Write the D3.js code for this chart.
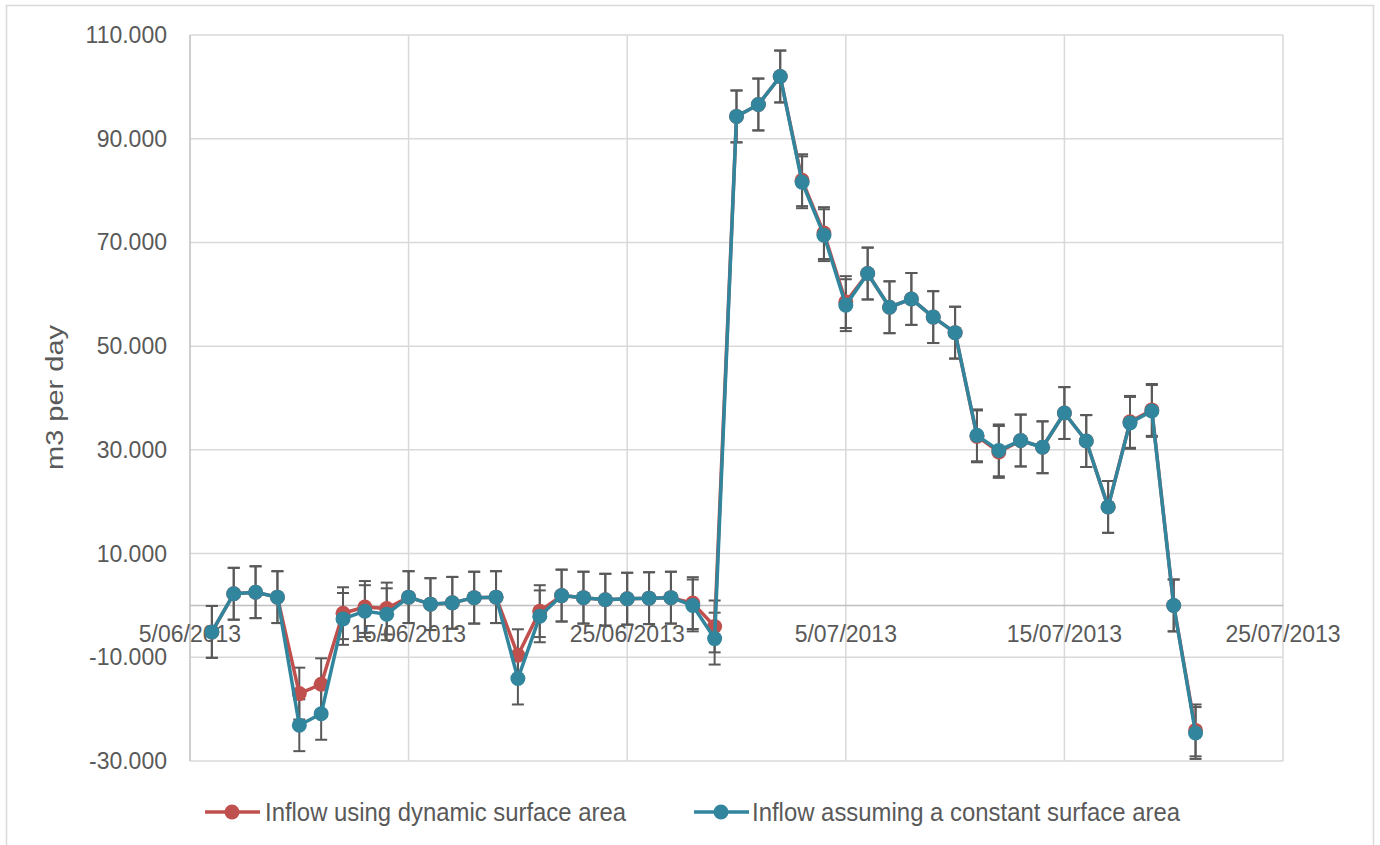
<!DOCTYPE html>
<html>
<head>
<meta charset="utf-8">
<script src="https://cdn.jsdelivr.net/npm/d3@7/dist/d3.min.js"></script>
<style>
  html, body { margin: 0; padding: 0; background: #fff; }
  svg { display: block; font-family: "Liberation Sans", Arial, sans-serif; }
</style>
</head>
<body>
<svg id="chart" width="1380" height="845"></svg>
<script>
// Daily inflow, 6 June – 21 July 2013 (m3 per day)
const dates = [
  "2013-06-06","2013-06-07","2013-06-08","2013-06-09","2013-06-10","2013-06-11","2013-06-12","2013-06-13",
  "2013-06-14","2013-06-15","2013-06-16","2013-06-17","2013-06-18","2013-06-19","2013-06-20","2013-06-21",
  "2013-06-22","2013-06-23","2013-06-24","2013-06-25","2013-06-26","2013-06-27","2013-06-28","2013-06-29",
  "2013-06-30","2013-07-01","2013-07-02","2013-07-03","2013-07-04","2013-07-05","2013-07-06","2013-07-07",
  "2013-07-08","2013-07-09","2013-07-10","2013-07-11","2013-07-12","2013-07-13","2013-07-14","2013-07-15",
  "2013-07-16","2013-07-17","2013-07-18","2013-07-19","2013-07-20","2013-07-21"
];

const inflowDynamic = [
  -5100, 2250, 2550, 1600, -17000, -15200, -1500, -300,
  -600, 1600, 250, 500, 1500, 1600, -9600, -1100,
  1900, 1500, 1100, 1300, 1400, 1500, 450, -4050,
  94300, 96600, 102000, 82000, 71800, 58500, 64000, 57500,
  59100, 55600, 52600, 32600, 29600, 31800, 30500, 37100,
  31700, 19000, 35400, 37700, 0, -24100
];

const inflowConstant = [
  -5100, 2250, 2550, 1600, -23100, -20900, -2600, -1100,
  -1700, 1600, 250, 500, 1500, 1600, -14100, -2100,
  1900, 1500, 1100, 1300, 1400, 1500, 0, -6400,
  94300, 96600, 102000, 81600, 71400, 57900, 64000, 57500,
  59100, 55600, 52600, 32800, 29900, 31800, 30500, 37100,
  31700, 19000, 35200, 37500, 0, -24600
];

// fixed error amount shown on every point (m3 per day)
const errorMargin = 5000;

const yTickValues = [-30000, -10000, 10000, 30000, 50000, 70000, 90000, 110000];
const xTickDates = ["2013-06-05","2013-06-15","2013-06-25","2013-07-05","2013-07-15","2013-07-25"];

const seriesNames = ["Inflow using dynamic surface area", "Inflow assuming a constant surface area"];
const seriesColors = ["#C0504D", "#31859C"];

const parse = d3.timeParse("%Y-%m-%d");
const locale = d3.formatLocale({ decimal: ",", thousands: ".", grouping: [3], currency: ["", ""], minus: "-" });
const fmtY = locale.format(",.0f");
const fmtX = d3.timeFormat("%-d/%m/%Y");

const svg = d3.select("#chart");
const plot = { left: 190, right: 1283, top: 35, bottom: 761 };

const x = d3.scaleTime()
  .domain([parse(xTickDates[0]), parse(xTickDates[xTickDates.length - 1])])
  .range([plot.left, plot.right]);
const y = d3.scaleLinear()
  .domain([-30000, 110000])
  .range([plot.bottom, plot.top]);

// outer chart frame
svg.append("rect")
  .attr("x", 6.5).attr("y", 5.5).attr("width", 1367).attr("height", 860)
  .attr("fill", "none").attr("stroke", "#d9d9d9").attr("stroke-width", 1.5);

const grid = svg.append("g");
// horizontal gridlines
grid.selectAll("line.h").data(yTickValues).join("line")
  .attr("x1", plot.left).attr("x2", plot.right)
  .attr("y1", d => y(d)).attr("y2", d => y(d))
  .attr("stroke", "#d9d9d9").attr("stroke-width", 1.5);
// vertical gridlines
grid.selectAll("line.v").data(xTickDates.slice(1)).join("line")
  .attr("x1", d => x(parse(d))).attr("x2", d => x(parse(d)))
  .attr("y1", plot.top).attr("y2", plot.bottom)
  .attr("stroke", "#d9d9d9").attr("stroke-width", 1.5);

// value axis line and date axis line at zero
svg.append("line")
  .attr("x1", plot.left).attr("x2", plot.left)
  .attr("y1", plot.top).attr("y2", plot.bottom)
  .attr("stroke", "#bfbfbf").attr("stroke-width", 1.5);
svg.append("line")
  .attr("x1", plot.left).attr("x2", plot.right)
  .attr("y1", y(0)).attr("y2", y(0))
  .attr("stroke", "#bfbfbf").attr("stroke-width", 1.5);

// y tick labels
svg.append("g").selectAll("text").data(yTickValues).join("text")
  .attr("x", 167).attr("y", d => y(d) + 8)
  .attr("text-anchor", "end")
  .attr("font-size", 23).attr("fill", "#595959")
  .text(d => fmtY(d));

// x tick labels, sitting just below the zero line
svg.append("g").selectAll("text").data(xTickDates).join("text")
  .attr("x", d => x(parse(d))).attr("y", y(0) + 36.5)
  .attr("text-anchor", "middle")
  .attr("font-size", 23).attr("fill", "#595959")
  .text(d => fmtX(parse(d)));

// y axis title
svg.append("text")
  .attr("transform", "translate(62.5,397.5) rotate(-90)")
  .attr("text-anchor", "middle")
  .attr("font-size", 23).attr("fill", "#595959")
  .attr("textLength", 145).attr("lengthAdjust", "spacingAndGlyphs")
  .text("m3 per day");

const allSeries = [inflowDynamic, inflowConstant].map((vals, i) => ({
  name: seriesNames[i],
  color: seriesColors[i],
  points: vals.map((v, j) => ({ date: parse(dates[j]), value: v }))
}));

// error bars
const capHalf = 6;
const eb = svg.append("g").attr("stroke", "#595959").attr("stroke-width", 2);
allSeries.forEach(s => {
  const g = eb.append("g");
  s.points.forEach(p => {
    const cx = x(p.date), yt = y(p.value + errorMargin), yb = y(p.value - errorMargin);
    g.append("line").attr("x1", cx).attr("x2", cx).attr("y1", yt).attr("y2", yb);
    g.append("line").attr("x1", cx - capHalf).attr("x2", cx + capHalf).attr("y1", yt).attr("y2", yt);
    g.append("line").attr("x1", cx - capHalf).attr("x2", cx + capHalf).attr("y1", yb).attr("y2", yb);
  });
});

// series lines and markers
const line = d3.line().x(d => x(d.date)).y(d => y(d.value));
allSeries.forEach(s => {
  const g = svg.append("g");
  g.append("path").datum(s.points)
    .attr("d", line).attr("fill", "none")
    .attr("stroke", s.color).attr("stroke-width", 3.5)
    .attr("stroke-linejoin", "round");
  g.selectAll("circle").data(s.points).join("circle")
    .attr("cx", d => x(d.date)).attr("cy", d => y(d.value))
    .attr("r", 7.5).attr("fill", s.color);
});

// legend
const legendItems = [
  { lineX: 205, textX: 265, len: 361 },
  { lineX: 694, textX: 752, len: 428 }
];
const lg = svg.append("g");
legendItems.forEach((it, i) => {
  lg.append("line")
    .attr("x1", it.lineX).attr("x2", it.lineX + 55)
    .attr("y1", 812).attr("y2", 812)
    .attr("stroke", seriesColors[i]).attr("stroke-width", 3.5);
  lg.append("circle")
    .attr("cx", it.lineX + 27).attr("cy", 812).attr("r", 7.5)
    .attr("fill", seriesColors[i]);
  lg.append("text")
    .attr("x", it.textX).attr("y", 820.5)
    .attr("font-size", 25).attr("fill", "#595959")
    .attr("textLength", it.len).attr("lengthAdjust", "spacingAndGlyphs")
    .text(seriesNames[i]);
});
</script>
</body>
</html>
